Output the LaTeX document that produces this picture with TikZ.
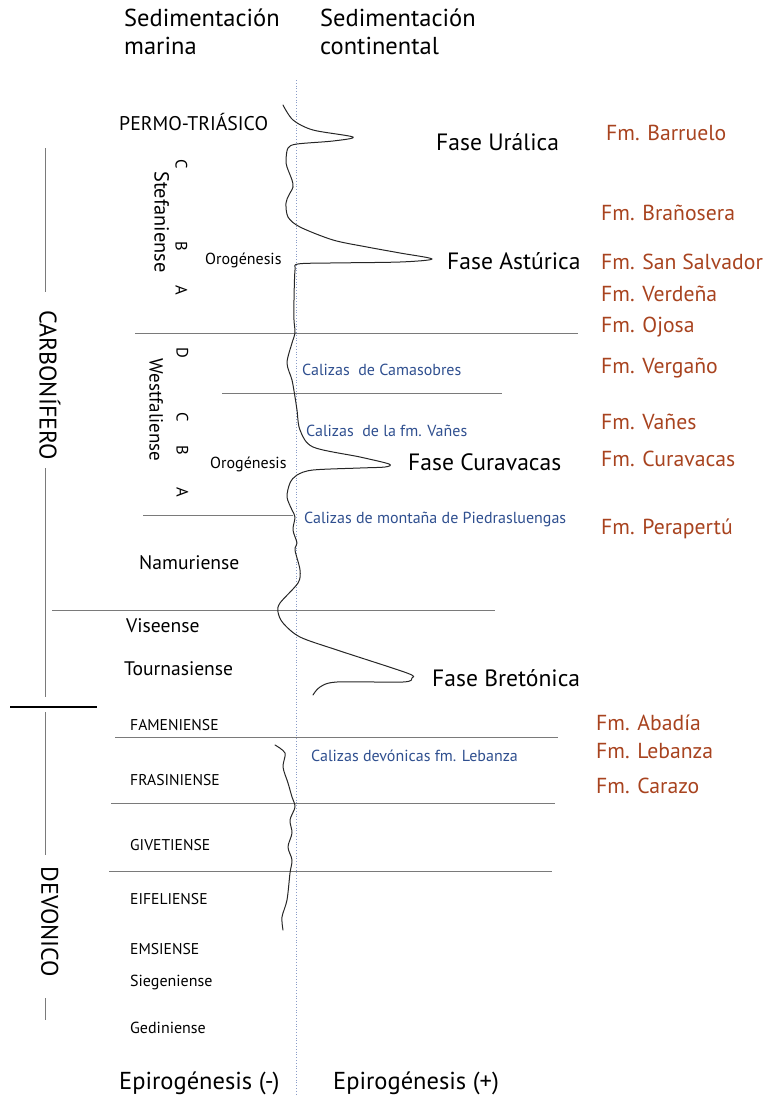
\documentclass[tikz,border=0pt]{standalone}
\usepackage{fontspec}
\setmainfont{PT Sans}
\definecolor{fmbrown}{HTML}{A8431F}
\definecolor{calblue}{HTML}{2F4F8F}
\definecolor{rulegray}{HTML}{7A7A7A}
\definecolor{dotblue}{HTML}{8A9CC8}
\begin{document}
\begin{tikzpicture}[x=1pt,y=-1pt,
  lbl/.style={inner sep=0pt, anchor=west, text height=0.7em, text depth=0pt, yshift=-5pt},
  hdr/.style={lbl, font=\fontsize{24.5}{28}\selectfont},
  fm/.style={lbl, text=fmbrown, font=\fontsize{21.7}{25}\selectfont},
  fase/.style={lbl, font=\fontsize{23.6}{27}\selectfont},
  cal/.style={lbl, text=calblue, font=\fontsize{16}{19}\selectfont},
  per/.style={lbl, font=\fontsize{19.6}{23}\selectfont},
  caps/.style={lbl, font=\fontsize{15.6}{18}\selectfont},
  small/.style={lbl, font=\fontsize{16}{19}\selectfont},
  rot/.style={inner sep=0pt, rotate=-90, text height=0.7em, text depth=0pt, anchor=center},
  let/.style={rot, font=\fontsize{16.5}{19}\selectfont},
  era/.style={rot, font=\fontsize{24}{28}\selectfont},
  hrule/.style={draw=rulegray, line width=0.8pt},
  curve/.style={draw=black!85, line width=1pt, line join=round, line cap=round}
]
\useasboundingbox (0,0) rectangle (766,1101);

% headers
\node[hdr] (h1) at (124,18) {Sedimentación};
\node[hdr] (h2) at (124,46) {marina};
\node[hdr] (h3) at (320,18) {Sedimentación};
\node[hdr] (h4) at (320,46) {continental};

% dotted axis
\draw[dotblue, dotted, line width=0.8pt] (296,80) -- (296,1095);

% horizontal rules
\draw[hrule] (135,333) -- (578,333);
\draw[hrule] (222,393) -- (502,393);
\draw[hrule] (143,515) -- (293,515);
\draw[hrule] (52,610) -- (495,610);
\draw[hrule] (115,737) -- (558,737);
\draw[hrule] (111,803) -- (555,803);
\draw[hrule] (109,871) -- (552,871);

% left timeline
\draw[rulegray, line width=0.8pt] (45,148) -- (45,292);
\draw[rulegray, line width=0.8pt] (45,468) -- (45,697);
\draw[rulegray, line width=0.8pt] (45,712) -- (45,855);
\draw[rulegray, line width=0.8pt] (45,998) -- (45,1020);
\draw[black, line width=1.3pt] (10,707) -- (97,707);
\node[era] (carb) at (43,385) {CARBONÍFERO};
\node[era] (devo) at (45,922) {DEVONICO};

% left labels
\node[lbl, font=\fontsize{19.8}{23}\selectfont] (permo) at (119,122) {PERMO-TRIÁSICO};
\node[rot, font=\fontsize{20.4}{24}\selectfont] (stef) at (158,222) {Stefaniense};
\node[let] (sc) at (179,164) {C};
\node[let] (sb) at (179,246) {B};
\node[let] (sa) at (179,290) {A};
\node[small] (oro1) at (205,256) {Orogénesis};
\node[rot, font=\fontsize{19}{22}\selectfont] (west) at (153,410) {Westfaliense};
\node[let] (wd) at (180,353) {D};
\node[let] (wc) at (180,417) {C};
\node[let] (wb) at (180,450) {B};
\node[let] (wa) at (180,492) {A};
\node[small] (oro2) at (210,460) {Orogénesis};
\node[per] (nam) at (139,561) {Namuriense};
\node[per] (vis) at (126,624) {Viseense};
\node[per] (tou) at (124,667) {Tournasiense};
\node[caps] (fam) at (130,722) {FAMENIENSE};
\node[caps] (fra) at (130,777) {FRASINIENSE};
\node[caps] (giv) at (130,842) {GIVETIENSE};
\node[caps] (eif) at (130,896) {EIFELIENSE};
\node[caps] (ems) at (130,946) {EMSIENSE};
\node[caps, font=\fontsize{16}{19}\selectfont] (sie) at (130,978) {Siegeniense};
\node[caps, font=\fontsize{16}{19}\selectfont] (ged) at (130,1025) {Gediniense};

% blue labels
\node[cal] (c1) at (302,367) {Calizas\ \ de Camasobres};
\node[cal] (c2) at (306,428) {Calizas\ \ de la fm. Vañes};
\node[cal] (c3) at (304,515) {Calizas de montaña de Piedrasluengas};
\node[cal] (c4) at (311,753) {Calizas devónicas fm. Lebanza};

% phases
\node[fase] (f1) at (436,142) {Fase Urálica};
\node[fase] (f2) at (447,261) {Fase Astúrica};
\node[fase] (f3) at (408,462) {Fase Curavacas};
\node[fase] (f4) at (432,678) {Fase Bretónica};

% formations
\node[fm] (m1) at (606,132) {Fm. Barruelo};
\node[fm] (m2) at (601,212) {Fm. Brañosera};
\node[fm] (m3) at (601,261) {Fm. San Salvador};
\node[fm] (m4) at (601,293) {Fm. Verdeña};
\node[fm] (m5) at (601,324) {Fm. Ojosa};
\node[fm] (m6) at (601,365) {Fm. Vergaño};
\node[fm] (m7) at (601,421) {Fm. Vañes};
\node[fm] (m8) at (601,458) {Fm. Curavacas};
\node[fm] (m9) at (601,526) {Fm. Perapertú};
\node[fm] (m10) at (596,722) {Fm. Abadía};
\node[fm] (m11) at (596,750) {Fm. Lebanza};
\node[fm] (m12) at (596,785) {Fm. Carazo};

% bottom
\node[hdr] (e1) at (119,1081) {Epirogénesis (-)};
\node[hdr] (e2) at (333,1081) {Epirogénesis (+)};

% curve carboniferous
\draw[curve] plot[smooth, tension=0.5] coordinates {
 (283,105) (293,120) (313,130) (353,137) (333,141) (297,144) (288,148) (286,160)
 (287,167) (292,180) (293,187) (289,195) (286,203) (288,217) (300,227) (333,240)
 (367,247) (400,253) (432,259) (400,262) (330,263) (298,264) (295,270) (294,300)
 (294,320) (295,333) (292,343) (287,363) (292,380) (295,397) (297,410) (300,430)
 (313,447) (360,457) (389,464) (385,467) (360,468) (313,470) (297,475) (290,483)
 (287,497) (292,510) (295,517) (293,530) (297,543) (295,550) (300,570) (298,583)
 (280,603) (278,612) (283,623) (300,637) (337,650) (407,673) (412,678) (403,682)
 (337,682) (320,687) (313,695)};
% curve devonian
\draw[curve] plot[smooth, tension=0.5] coordinates {
 (275,745) (285,753) (283,767) (288,783) (292,797) (295,807) (290,820) (292,833)
 (288,847) (292,860) (290,873) (287,900) (282,917) (283,930)};
\end{tikzpicture}
\end{document}
